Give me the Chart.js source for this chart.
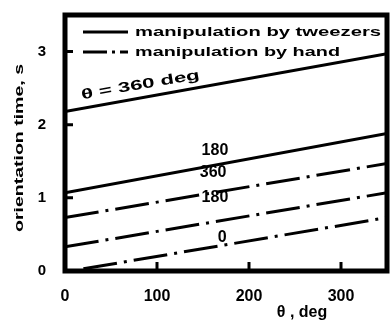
<!DOCTYPE html>
<html>
<head>
<meta charset="utf-8">
<script src="https://cdn.jsdelivr.net/npm/chart.js@4/dist/chart.umd.min.js"></script>
<style>
  html, body { margin: 0; padding: 0; background: #fff; }
  #wrap { width: 392px; height: 324px; }
</style>
</head>
<body>
<div id="wrap"><canvas id="chart"></canvas></div>
<script>
// values
const phiX = [0, 350];
const tweezers360 = [2.18, 2.97];
const tweezers180 = [1.07, 1.88];
const hand360 = [0.73, 1.47];
const hand180 = [0.33, 1.07];
const hand0X = [20, 350];
const hand0 = [0.03, 0.73];
const xTickValues = [0, 100, 200, 300];
const yTickValues = [0, 1, 2, 3];
const legendNames = ['manipulation by tweezers', 'manipulation by hand'];
const curveNames = ['180', '360', '180', '0'];
const curveNameX = [163, 161, 163, 171];
const curveNameY = [1.65, 1.34, 1.0, 0.46];

const FONT = '"Liberation Sans", Arial, sans-serif';
const DASHDOT = [34, 7, 3, 7];

function pts(xs, ys) {
    return xs.map((x, i) => ({ x: x, y: ys[i] }));
}

function line(data, dashed) {
    return {
        data: data,
        borderColor: '#000',
        borderWidth: 3,
        borderDash: dashed ? DASHDOT : [],
        pointRadius: 0,
        tension: 0,
        fill: false
    };
}

// draw text squeezed or stretched to a given width
function fitText(ctx, text, x, y, width, size, align, rot) {
    ctx.save();
    ctx.font = 'bold ' + size + 'px ' + FONT;
    const w = ctx.measureText(text).width;
    const sx = width ? width / w : 1;
    ctx.translate(x, y);
    if (rot) ctx.rotate(rot);
    ctx.scale(sx, 1);
    ctx.textAlign = align || 'left';
    ctx.textBaseline = 'middle';
    ctx.fillStyle = '#000';
    ctx.fillText(text, 0, 0);
    ctx.restore();
}

const frame = {
    id: 'frame',
    afterDatasetsDraw(chart) {
        const { ctx, chartArea: a, scales } = chart;
        const xs = scales.x, ys = scales.y;
        ctx.save();
        // box
        ctx.strokeStyle = '#000';
        ctx.lineWidth = 5;
        ctx.strokeRect(a.left, a.top, a.right - a.left, a.bottom - a.top);
        // inward ticks
        ctx.lineWidth = 3;
        ctx.beginPath();
        xTickValues.slice(1).forEach(v => {
            const px = xs.getPixelForValue(v);
            ctx.moveTo(px, a.bottom);
            ctx.lineTo(px, a.bottom - 9);
        });
        yTickValues.slice(1).forEach(v => {
            const py = ys.getPixelForValue(v);
            ctx.moveTo(a.left, py);
            ctx.lineTo(a.left + 8, py);
        });
        ctx.stroke();

        // legend
        const lx0 = a.left + 18, lx1 = a.left + 63;
        ctx.lineWidth = 3;
        ctx.beginPath();
        ctx.setLineDash([]);
        ctx.moveTo(lx0, a.top + 17);
        ctx.lineTo(lx1, a.top + 17);
        ctx.stroke();
        ctx.beginPath();
        ctx.setLineDash([24, 5, 3, 5]);
        ctx.moveTo(lx0, a.top + 37);
        ctx.lineTo(lx1, a.top + 37);
        ctx.stroke();
        ctx.setLineDash([]);
        fitText(ctx, legendNames[0], a.left + 70, a.top + 17, 246, 13);
        fitText(ctx, legendNames[1], a.left + 70, a.top + 37, 205, 13);

        // curve labels
        fitText(ctx, '\u03b8 = 360 deg', xs.getPixelForValue(82), ys.getPixelForValue(2.54), 120, 14, 'center', -0.17);
        curveNames.forEach((t, i) => {
            fitText(ctx, t, xs.getPixelForValue(curveNameX[i]), ys.getPixelForValue(curveNameY[i]), 0, 16, 'center');
        });

        // axis titles
        fitText(ctx, '\u03b8 , deg', 302, 313, 0, 16, 'center');
        fitText(ctx, 'orientation time, s', 19, (a.top + a.bottom) / 2 + 5, 168, 13, 'center', -Math.PI / 2);
        ctx.restore();
    }
};

new Chart(document.getElementById('chart'), {
    type: 'line',
    data: {
        datasets: [
            line(pts(phiX, tweezers360), false),
            line(pts(phiX, tweezers180), false),
            line(pts(phiX, hand360), true),
            line(pts(phiX, hand180), true),
            line(pts(hand0X, hand0), true)
        ]
    },
    options: {
        responsive: true,
        maintainAspectRatio: false,
        animation: false,
        events: [],
        layout: { padding: { top: 15, right: 5, left: 4, bottom: 2 } },
        plugins: { legend: { display: false }, tooltip: { enabled: false } },
        scales: {
            x: {
                type: 'linear',
                min: 0,
                max: 350,
                afterBuildTicks: s => { s.ticks = xTickValues.map(v => ({ value: v })); },
                afterFit: s => { s.height = 51; s.paddingLeft = 0; s.paddingRight = 0; },
                grid: { display: false },
                border: { display: false },
                ticks: {
                    color: '#000',
                    padding: 8,
                    maxRotation: 0,
                    font: { family: FONT, size: 16, weight: 'bold' }
                },
                title: { display: false }
            },
            y: {
                min: 0,
                max: 3.5,
                afterBuildTicks: s => { s.ticks = yTickValues.map(v => ({ value: v })); },
                afterFit: s => { s.width = 61; s.paddingTop = 0; s.paddingBottom = 0; },
                grid: { display: false },
                border: { display: false },
                ticks: {
                    color: '#000',
                    padding: 11,
                    font: { family: FONT, size: 15, weight: 'bold' }
                },
                title: { display: false }
            }
        }
    },
    plugins: [frame]
});
</script>
</body>
</html>
